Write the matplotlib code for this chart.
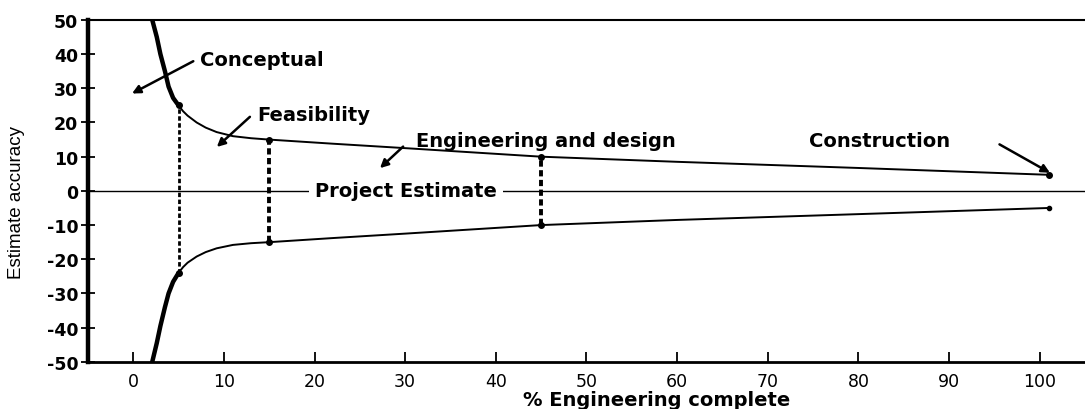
import numpy as np
import matplotlib.pyplot as plt

# upper bound of estimate accuracy (%), lower bound is roughly the mirror
steep_x = [2.1, 2.6, 3.0, 3.5, 3.9, 4.4, 5.0]
steep_hi = [50, 45, 40, 35, 30.5, 27.2, 25]
steep_lo = [-50, -44.5, -39.5, -34, -30, -26.6, -24]
flat_x = [5.0, 5.5, 6.0, 7.0, 8.0, 9.2, 11.0, 13.0, 15.0, 22.0, 30.0, 45.0, 60.0, 80.0, 101.0]
flat_hi = [25, 23.3, 22.0, 20.0, 18.5, 17.2, 16.0, 15.4, 15.0, 13.8, 12.5, 10.0, 8.5, 6.7, 4.7]
flat_lo = [-24, -22.3, -21.0, -19.2, -17.9, -16.8, -15.8, -15.3, -15.0, -13.8, -12.5, -10.0, -8.5, -6.8, -5.0]

# stage markers (dashed verticals)
stage_x = [5, 15, 45]
stage_hi = [25, 15, 10]
stage_lo = [-24, -15, -10]

xticks = list(range(0, 101, 10))
yticks = list(range(-50, 51, 10))

fig = plt.figure(figsize=(10.85, 4.10), dpi=100)
ax = fig.add_axes([0.081, 0.115, 0.919, 0.834])
ax.set_xlim(-5, 105)
ax.set_ylim(-50, 50)

ax.plot(steep_x, steep_hi, color='black', lw=3.2, solid_capstyle='round', solid_joinstyle='round')
ax.plot(steep_x, steep_lo, color='black', lw=3.2, solid_capstyle='round', solid_joinstyle='round')
ax.plot(flat_x, flat_hi, color='black', lw=1.4)
ax.plot(flat_x, flat_lo, color='black', lw=1.4)
ax.plot([flat_x[-1]], [flat_hi[-1]], 'o', color='black', ms=4)
ax.plot([flat_x[-1]], [flat_lo[-1]], 'o', color='black', ms=3)

for sx, hi, lo in zip(stage_x, stage_hi, stage_lo):
    ax.plot([sx, sx], [lo, hi], color='black', lw=2.0 if sx == 5 else 2.8,
            ls=(0, (1.6, 0.9)))
    ax.plot([sx, sx], [lo, hi], 'o', color='black', ms=4)

ax.axhline(0, color='black', lw=1.0, zorder=1)

bold = dict(fontsize=14, fontweight='bold', family='DejaVu Sans')
ax.text(30.1, 0, 'Project Estimate', ha='center', va='center', zorder=3,
        bbox=dict(facecolor='white', edgecolor='none', pad=4), **bold)

arrow = dict(arrowstyle='-|>', color='black', lw=1.8, mutation_scale=12)
ax.annotate('', xy=(-0.4, 28.1), xytext=(6.9, 38.3), arrowprops=arrow)
ax.text(7.4, 38.3, 'Conceptual', ha='left', va='center', **bold)
ax.annotate('', xy=(9.0, 12.3), xytext=(13.1, 22.2), arrowprops=arrow)
ax.text(13.7, 22.4, 'Feasibility', ha='left', va='center', **bold)
ax.annotate('', xy=(27.0, 6.1), xytext=(30.0, 13.5), arrowprops=arrow)
ax.text(31.2, 14.6, 'Engineering and design', ha='left', va='center', **bold)
ax.annotate('', xy=(101.4, 4.9), xytext=(95.3, 14.0), arrowprops=arrow)
ax.text(74.6, 14.6, 'Construction', ha='left', va='center', **bold)

ax.set_xticks(xticks)
ax.set_yticks(yticks)
ax.set_xticklabels([str(t) for t in xticks], fontsize=12.5)
ax.set_yticklabels([str(t) for t in yticks], fontsize=12.5, fontweight='bold')
ax.tick_params(axis='x', direction='in', length=7, width=1.3, pad=7)
ax.tick_params(axis='y', direction='inout', length=10, width=1.3, pad=2)

ax.spines['right'].set_visible(False)
ax.spines['left'].set_linewidth(3.2)
ax.spines['bottom'].set_linewidth(2.0)
ax.spines['top'].set_linewidth(1.5)

ax.set_xlabel('% Engineering complete', fontsize=14, fontweight='bold')
ax.xaxis.set_label_coords(0.570, -0.082)
ax.set_ylabel('Estimate accuracy', fontsize=13.5,
              family=['Liberation Sans Narrow', 'Liberation Sans'])
ax.yaxis.set_label_coords(-0.063, 0.47)

fig.savefig('out.png', dpi=100)
